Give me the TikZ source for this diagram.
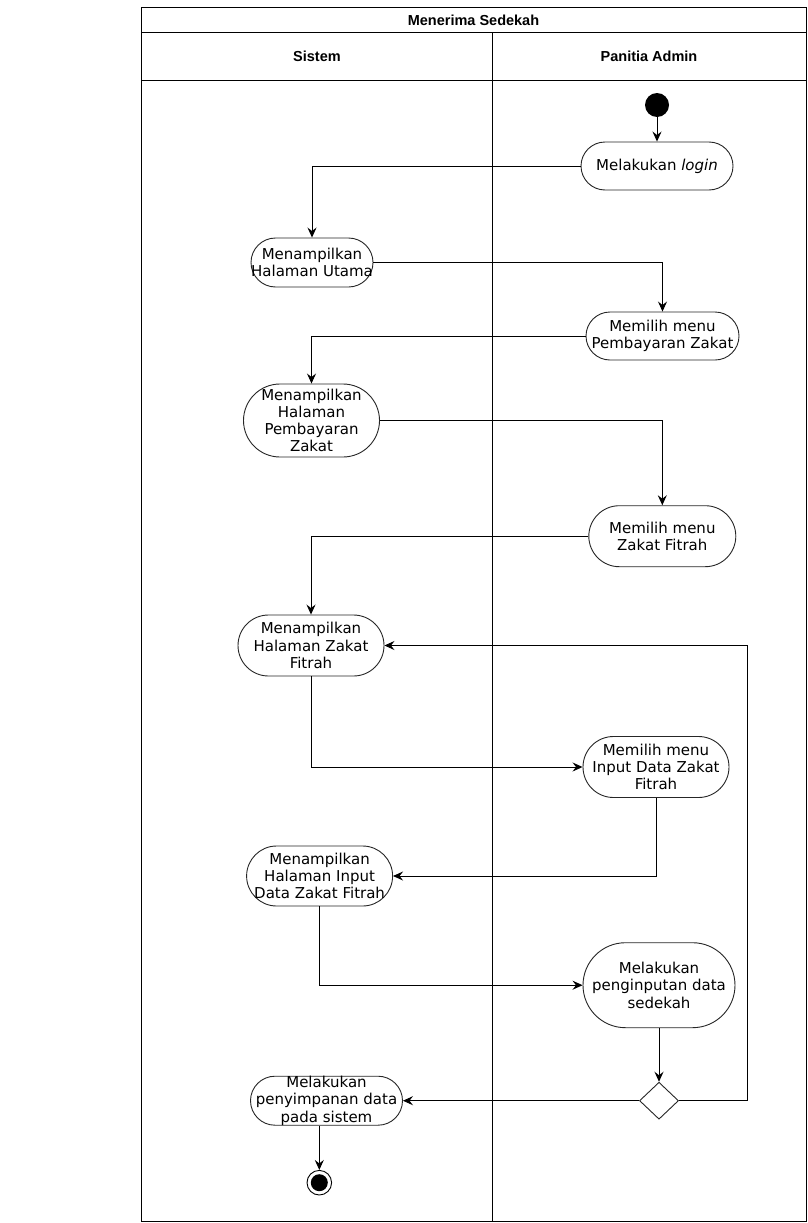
\documentclass[tikz,border=0pt]{standalone}
\usepackage{fontspec}
\setmainfont{DejaVu Sans}
\newfontfamily\hfont{Liberation Sans}
\usetikzlibrary{arrows.meta,shapes.geometric}
\begin{document}
\begin{tikzpicture}[x=1pt,y=-1pt,
  act/.style={draw=black!85,line width=0.9pt,rectangle,inner sep=0pt,align=center,
    font=\fontsize{15}{17.2}\selectfont,fill=white},
  hdr/.style={font=\hfont\bfseries\fontsize{14.5}{16}\selectfont,inner sep=0pt},
  flow/.style={draw=black,line width=0.9pt,-{Stealth[length=10pt,width=9pt,inset=3.5pt]}},
  lane/.style={draw=black,line width=1pt}
]
\useasboundingbox (0,0) rectangle (807,1223);
% swimlane frame
\draw[lane] (141,7.5) rectangle (806,1221.7);
\draw[lane] (141,32.3) -- (806,32.3);
\draw[lane] (141,80.3) -- (806,80.3);
\draw[lane] (492.7,32.3) -- (492.7,1221.7);
\node[hdr] (title) at (473.5,20) {Menerima Sedekah};
\node[hdr] (h1) at (317,56.5) {Sistem};
\node[hdr] (h2) at (649,56.5) {Panitia Admin};

% nodes
\node[circle,fill=black,minimum size=24pt,inner sep=0pt] (start) at (657,105) {};
\node[act,minimum width=152pt,minimum height=48pt,rounded corners=24pt] (login) at (657,166) {Melakukan \textit{login}};
\node[act,minimum width=122pt,minimum height=49pt,rounded corners=24.5pt] (hu) at (312,262.5) {Menampilkan\\Halaman Utama};
\node[act,minimum width=153pt,minimum height=48pt,rounded corners=24pt] (pz) at (662.5,336) {Memilih menu\\Pembayaran Zakat};
\node[act,minimum width=136pt,minimum height=73pt,rounded corners=36.5pt] (hpz) at (311.5,420.5) {Menampilkan\\Halaman\\Pembayaran\\Zakat};
\node[act,minimum width=147pt,minimum height=61pt,rounded corners=30.5pt] (zf) at (662.3,536.2) {Memilih menu\\Zakat Fitrah};
\node[act,minimum width=146pt,minimum height=61pt,rounded corners=30.5pt] (hzf) at (311,645.5) {Menampilkan\\Halaman Zakat\\Fitrah};
\node[act,minimum width=146pt,minimum height=61pt,rounded corners=30.5pt] (inp) at (656,767) {Memilih menu\\Input Data Zakat\\Fitrah};
\node[act,minimum width=146pt,minimum height=60pt,rounded corners=30pt] (hid) at (319.6,876) {Menampilkan\\Halaman Input\\Data Zakat Fitrah};
\node[act,minimum width=152pt,minimum height=85pt,rounded corners=42.5pt] (peng) at (659,985.2) {Melakukan\\penginputan data\\sedekah};
\node[draw=black!85,line width=0.9pt,diamond,fill=white,inner sep=0pt,minimum width=39pt,minimum height=37pt] (dec) at (659,1100.7) {};
\node[act,minimum width=152pt,minimum height=49pt,rounded corners=24.5pt] (pen) at (326.5,1100.7) {Melakukan\\penyimpanan data\\pada sistem};
\node[circle,draw=black,line width=0.9pt,fill=white,minimum size=24.6pt,inner sep=0pt] (endc) at (319.3,1182.7) {};
\node[circle,fill=black,minimum size=17pt,inner sep=0pt] (endin) at (endc) {};

\coordinate (lp) at (747.5,645.5);

% connectors
\draw[flow] (start) -- (login);
\draw[flow] (login.west) -| (hu.north);
\draw[flow] (hu.east) -| (pz.north);
\draw[flow] (pz.west) -| (hpz.north);
\draw[flow] (hpz.east) -| (zf.north);
\draw[flow] (zf.west) -| (hzf.north);
\draw[flow] (hzf.south) |- (inp.west);
\draw[flow] (inp.south) |- (hid.east);
\draw[flow] (hid.south) |- (peng.west);
\draw[flow] (peng.south) -- (dec.north);
\draw[flow] (dec.west) -- (pen.east);
\draw[flow] (dec.east) -| (lp) -- (hzf.east);
\draw[flow] (endc |- pen.south) -- (endc.north);
\end{tikzpicture}
\end{document}
